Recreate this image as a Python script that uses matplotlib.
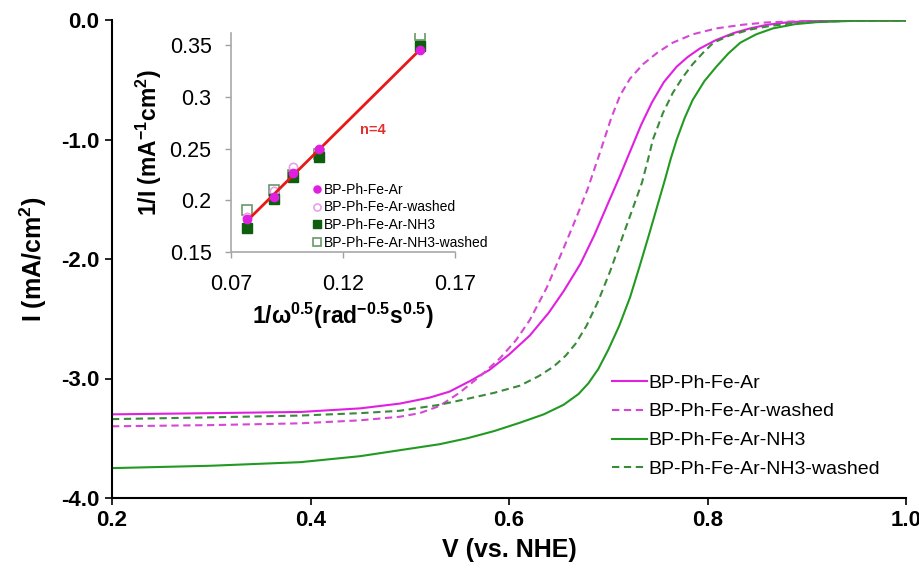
import numpy as np
import matplotlib
matplotlib.use("Agg")
import matplotlib.pyplot as plt

plt.rcParams['font.family'] = ['Liberation Sans', 'DejaVu Sans']
plt.rcParams['mathtext.fontset'] = 'custom'
plt.rcParams['mathtext.rm'] = 'Liberation Sans'
plt.rcParams['mathtext.bf'] = 'Liberation Sans:bold'

# polarization curves, current density (mA/cm2) vs potential (V)
v_ar = [0.20, 0.30, 0.39, 0.45, 0.49, 0.52, 0.54, 0.561, 0.58, 0.60, 0.621, 0.64,
        0.655, 0.672, 0.686, 0.700, 0.711, 0.722, 0.733, 0.744, 0.756, 0.769, 0.780,
        0.792, 0.808, 0.826, 0.843, 0.860, 0.88, 0.90, 0.95, 1.0]
i_ar = [-3.30, -3.29, -3.28, -3.25, -3.21, -3.16, -3.11, -3.02, -2.93, -2.80, -2.64, -2.45,
        -2.27, -2.04, -1.80, -1.53, -1.32, -1.10, -0.88, -0.69, -0.52, -0.39, -0.31,
        -0.24, -0.17, -0.11, -0.07, -0.04, -0.02, -0.01, -0.005, -0.005]

v_ar_w = [0.20, 0.30, 0.39, 0.45, 0.49, 0.51, 0.53, 0.55, 0.571, 0.591, 0.607, 0.621,
          0.638, 0.654, 0.667, 0.679, 0.692, 0.703, 0.712, 0.722, 0.735, 0.75, 0.765,
          0.785, 0.809, 0.835, 0.86, 0.90, 1.0]
i_ar_w = [-3.40, -3.39, -3.375, -3.35, -3.32, -3.29, -3.23, -3.12, -2.98, -2.83, -2.68, -2.51,
          -2.24, -1.93, -1.67, -1.42, -1.10, -0.82, -0.63, -0.49, -0.37, -0.27, -0.19,
          -0.12, -0.07, -0.04, -0.02, -0.008, -0.005]

v_nh3 = [0.20, 0.25, 0.30, 0.39, 0.45, 0.49, 0.53, 0.558, 0.585, 0.611, 0.635, 0.655,
         0.67, 0.68, 0.69, 0.70, 0.711, 0.722, 0.732, 0.742, 0.750, 0.757, 0.763, 0.769,
         0.777, 0.785, 0.797, 0.809, 0.821, 0.833, 0.849, 0.866, 0.888, 0.910, 0.95, 1.0]
i_nh3 = [-3.75, -3.74, -3.73, -3.70, -3.65, -3.60, -3.55, -3.50, -3.44, -3.37, -3.30, -3.22,
         -3.13, -3.04, -2.92, -2.76, -2.56, -2.32, -2.05, -1.77, -1.54, -1.34, -1.16, -1.00,
         -0.82, -0.67, -0.51, -0.39, -0.28, -0.19, -0.12, -0.07, -0.035, -0.018, -0.006, -0.005]

v_nh3_w = [0.20, 0.30, 0.39, 0.45, 0.49, 0.53, 0.558, 0.585, 0.611, 0.63, 0.645, 0.657,
           0.667, 0.678, 0.690, 0.702, 0.715, 0.725, 0.734, 0.740, 0.745, 0.755, 0.765,
           0.775, 0.785, 0.796, 0.806, 0.822, 0.843, 0.863, 0.883, 0.91, 0.95, 1.0]
i_nh3_w = [-3.34, -3.325, -3.31, -3.29, -3.27, -3.22, -3.17, -3.12, -3.06, -2.98, -2.90, -2.81,
           -2.71, -2.56, -2.35, -2.10, -1.80, -1.57, -1.36, -1.17, -1.00, -0.78, -0.61,
           -0.48, -0.37, -0.27, -0.19, -0.13, -0.08, -0.05, -0.03, -0.015, -0.006, -0.005]

labels = ['BP-Ph-Fe-Ar', 'BP-Ph-Fe-Ar-washed', 'BP-Ph-Fe-Ar-NH3', 'BP-Ph-Fe-Ar-NH3-washed']

# Koutecky-Levich data (inset)
kl_x = [0.0773, 0.0892, 0.0977, 0.1093, 0.1545]
kl_ar = [0.1815, 0.203, 0.226, 0.2494, 0.346]
kl_ar_w = [0.1835, 0.209, 0.232, 0.249, 0.347]
kl_nh3 = [0.1737, 0.2009, 0.2228, 0.2422, 0.349]
kl_nh3_w = [0.191, 0.210, 0.225, 0.245, 0.3604]

x_ticks = [0.2, 0.4, 0.6, 0.8, 1.0]
y_ticks = [0.0, -1.0, -2.0, -3.0, -4.0]
kl_xticks = [0.07, 0.12, 0.17]
kl_xlabels = ['0.07', '0.12', '0.17']
kl_yticks = [0.15, 0.2, 0.25, 0.3, 0.35]
kl_ylabels = ['0.15', '0.2', '0.25', '0.3', '0.35']

c_mag = '#e020e0'
c_mag_d = '#d448d4'
c_grn = '#229a22'
c_grn_d = '#3a8a3a'
dash = (0, (3.5, 2.2))

fig = plt.figure(figsize=(9.2, 5.71), dpi=100)
ax = fig.add_axes([112 / 920, 1 - 498 / 571, (906 - 112) / 920, (498 - 20) / 571])

ax.plot(v_ar, i_ar, color=c_mag, lw=1.5, label=labels[0])
ax.plot(v_ar_w, i_ar_w, color=c_mag_d, lw=1.5, ls=dash, label=labels[1])
ax.plot(v_nh3, i_nh3, color=c_grn, lw=1.5, label=labels[2])
ax.plot(v_nh3_w, i_nh3_w, color=c_grn_d, lw=1.5, ls=dash, label=labels[3])

ax.set_xlim(0.2, 1.0)
ax.set_ylim(-4.0, 0.0)
ax.set_xticks(x_ticks)
ax.set_xticklabels(['%.1f' % t for t in x_ticks], fontweight='bold')
ax.set_yticks(y_ticks)
ax.set_yticklabels(['%.1f' % t for t in y_ticks], fontweight='bold')
ax.tick_params(labelsize=16, length=5, width=1.2, direction='out', pad=4)
for s in ['top', 'right']:
    ax.spines[s].set_visible(False)
for s in ['left', 'bottom']:
    ax.spines[s].set_linewidth(1.5)
ax.set_xlabel('V (vs. NHE)', fontsize=18, fontweight='bold', labelpad=5)
ax.set_ylabel('I (mA/cm$^\\mathbf{2}$)', fontsize=18, fontweight='bold', labelpad=9)

ax.legend(loc='upper left', bbox_to_anchor=(612 / 920, 1 - 374 / 571),
          bbox_transform=fig.transFigure, frameon=False, fontsize=14,
          handlelength=1.8, handletextpad=0.05, labelspacing=0.58,
          borderaxespad=0, borderpad=0)

# inset: 1/I vs 1/sqrt(w)
ins = fig.add_axes([231 / 920, 1 - 252 / 571, 224 / 920, (252 - 33) / 571])
ins.patch.set_alpha(0)
ins.plot(kl_x, kl_nh3, 's', ms=7.5, color='#0d5e0d', label=labels[2], zorder=3)
ins.plot(kl_x, kl_nh3_w, 's', ms=7.5, mfc='white', mec='#6a9a6a', mew=1.2, label=labels[3], zorder=2)
ins.plot(kl_x, kl_ar_w, 'o', ms=6, mfc='white', mec='#e8a0e8', mew=1.2, label=labels[1], zorder=2.5)
coef = np.polyfit(kl_x, kl_ar, 1)
fit_x = np.array([kl_x[0], kl_x[-1]])
ins.plot(fit_x, np.polyval(coef, fit_x), color='#e81818', lw=2, zorder=4)
ins.plot(kl_x, kl_ar, 'o', ms=6, color='#e020e0', label=labels[0], zorder=5)
ins.text(0.1334, 0.268, 'n=4', color='#e03030', fontsize=10.5, fontweight='bold', ha='center', va='center')

ins.set_xlim(0.07, 0.17)
ins.set_ylim(0.15, 0.362)
ins.set_xticks(kl_xticks)
ins.set_xticklabels(kl_xlabels)
ins.set_yticks(kl_yticks)
ins.set_yticklabels(kl_ylabels)
ins.tick_params(labelsize=15.5, length=4, width=1, color='#a0a0a0', direction='out')
ins.tick_params(axis='x', pad=12)
ins.tick_params(axis='y', pad=10)
for s in ['top', 'right']:
    ins.spines[s].set_visible(False)
for s in ['left', 'bottom']:
    ins.spines[s].set_color('#a8a8a8')
    ins.spines[s].set_linewidth(1.2)
ins.set_xlabel('1/ω$^\\mathbf{0.5}$(rad$^\\mathbf{-0.5}$s$^\\mathbf{0.5}$)', fontsize=16.5,
               fontweight='bold', labelpad=4)
ins.set_ylabel('1/I (mA$^\\mathbf{-1}$cm$^\\mathbf{2}$)', fontsize=16.5, fontweight='bold', labelpad=4)

h, l = ins.get_legend_handles_labels()
order = [3, 2, 0, 1]
ins.legend([h[i] for i in order], [l[i] for i in order], loc='lower left',
           bbox_to_anchor=(0.33, -0.03), frameon=False, fontsize=10,
           handlelength=0.6, handletextpad=0.15, labelspacing=0.28, borderaxespad=0.2,
           markerscale=0.85)

fig.savefig('out.png', dpi=100)
